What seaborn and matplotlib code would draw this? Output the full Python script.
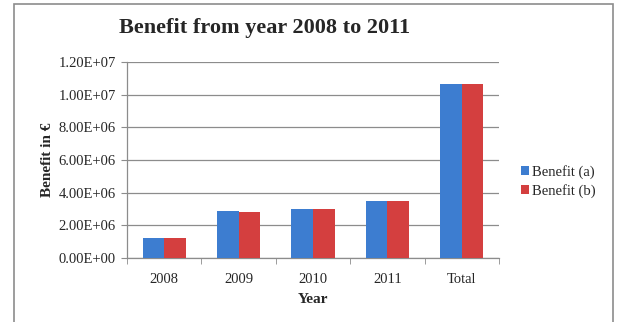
import matplotlib
matplotlib.use("Agg")
import matplotlib.pyplot as plt
import seaborn as sns
import pandas as pd
from matplotlib.patches import Rectangle
from matplotlib.ticker import FuncFormatter

categories = ["2008", "2009", "2010", "2011", "Total"]
benefit_a = [1.23e6, 2.85e6, 3.03e6, 3.46e6, 1.063e7]
benefit_b = [1.23e6, 2.84e6, 3.03e6, 3.46e6, 1.063e7]
series = ["Benefit (a)", "Benefit (b)"]

df = pd.DataFrame({
    "Year": categories * 2,
    "Benefit": benefit_a + benefit_b,
    "Series": [series[0]] * len(categories) + [series[1]] * len(categories),
})

sns.set_style("white")
plt.rcParams["font.family"] = ["Liberation Serif", "DejaVu Serif"]

fig = plt.figure(figsize=(6.22, 3.22), dpi=100)
ax = fig.add_axes([127/622, 1 - 258/322, (499-127)/622, (258-62)/322])

colors = ["#3D7DD0", "#D43F3F"]
sns.barplot(data=df, x="Year", y="Benefit", hue="Series", palette=colors,
            width=0.58, gap=0, ax=ax, edgecolor="none", saturation=1, zorder=3)


def sci(v, p):
    if v == 0:
        return "0.00E+00"
    s = "%.2E" % v
    return s


ax.set_ylim(0, 1.2e7)
ax.set_yticks([i * 2e6 for i in range(7)])
ax.yaxis.set_major_formatter(FuncFormatter(sci))
ax.set_xlim(-0.5, 4.5)
ax.grid(axis="y", color="#8c8c8c", linewidth=0.9, zorder=0)
for s in ["top", "right"]:
    ax.spines[s].set_visible(False)
for s in ["left", "bottom"]:
    ax.spines[s].set_color("#8c8c8c")
    ax.spines[s].set_linewidth(0.9)

ax.tick_params(axis="y", left=True, length=4, color="#8c8c8c", labelsize=10.5, pad=4)
ax.tick_params(axis="x", bottom=False, labelsize=10.5, pad=7)
ax.set_xticks(range(len(categories)))
ax.set_xticklabels(categories)
ax.set_xticks([i + 0.5 for i in range(-1, len(categories))], minor=True)
ax.tick_params(axis="x", which="minor", bottom=True, length=4, color="#8c8c8c")

ax.set_xlabel("Year", fontsize=11, fontweight="bold", labelpad=5)
ax.set_ylabel("Benefit in €", fontsize=11, fontweight="bold", labelpad=3)

fig.suptitle("Benefit from year 2008 to 2011", fontsize=16, fontweight="bold",
             x=265/622, y=1 - 18/322, va="top")

leg = ax.legend(loc="center left", bbox_to_anchor=(1.025, 0.39), frameon=False,
                fontsize=10.5, handlelength=0.55, handleheight=0.55, handletextpad=0.15,
                labelspacing=0.35)

fig.patches.append(Rectangle((14/622, -0.1), (613-14)/622, 1 - 4/322 + 0.1,
                             transform=fig.transFigure, fill=False,
                             edgecolor="#8c8c8c", linewidth=1.2))

fig.savefig("out.png", dpi=100)
